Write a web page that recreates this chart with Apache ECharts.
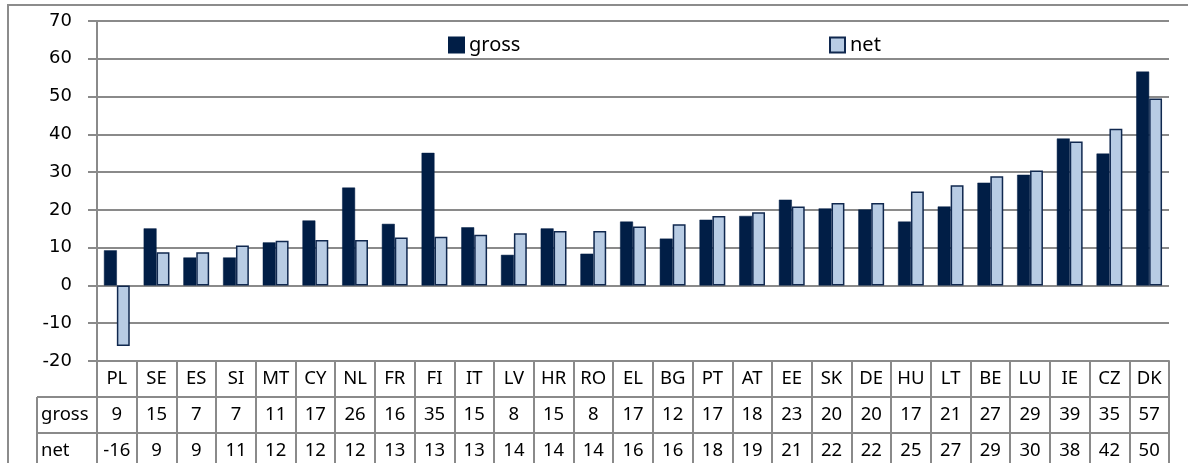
<!DOCTYPE html>
<html>
<head>
<meta charset="utf-8">
<script src="https://cdn.jsdelivr.net/npm/echarts@6/dist/echarts.min.js"></script>
<style>
  html, body { margin: 0; padding: 0; background: #fff; }
  #wrap { position: relative; width: 1188px; height: 463px; overflow: hidden; }
  #frame { position: absolute; left: 7px; top: 4px; width: 1300px; height: 600px;
           border-left: 2px solid #8c8c8c; border-top: 2px solid #8c8c8c; }
  #myEchart { position: absolute; left: 0; top: 0; width: 1188px; height: 463px; }
</style>
</head>
<body>
<div id="wrap">
  <div id="frame"></div>
  <div id="myEchart"></div>
</div>
<script>
// categories (countries)
var countries = ['PL', 'SE', 'ES', 'SI', 'MT', 'CY', 'NL', 'FR', 'FI', 'IT', 'LV', 'HR', 'RO', 'EL',
  'BG', 'PT', 'AT', 'EE', 'SK', 'DE', 'HU', 'LT', 'BE', 'LU', 'IE', 'CZ', 'DK'];
// bar heights
var grossValues = [9.3, 15.1, 7.4, 7.4, 11.4, 17.2, 25.9, 16.3, 35.1, 15.4, 8.1, 15.1, 8.4, 16.9,
  12.4, 17.4, 18.4, 22.7, 20.4, 20.1, 16.9, 20.9, 27.2, 29.3, 38.9, 34.9, 56.6];
var netValues = [-16.0, 8.8, 8.8, 10.6, 11.8, 12.0, 12.0, 12.7, 12.9, 13.4, 13.8, 14.4, 14.4, 15.6,
  16.2, 18.4, 19.4, 20.9, 21.8, 21.8, 24.9, 26.5, 28.9, 30.4, 38.1, 41.5, 49.5];
// values printed in the data table
var grossTable = [9, 15, 7, 7, 11, 17, 26, 16, 35, 15, 8, 15, 8, 17, 12, 17, 18, 23, 20, 20, 17, 21, 27, 29, 39, 35, 57];
var netTable = [-16, 9, 9, 11, 12, 12, 12, 13, 13, 13, 14, 14, 14, 16, 16, 18, 19, 21, 22, 22, 25, 27, 29, 30, 38, 42, 50];
var rowNames = ['gross', 'net'];
// y axis range
var yMin = -20;
var yMax = 70;
var yStep = 10;

var lineColor = '#8a8a8a';
var tableFont = 'Noto Sans';
var tableSize = 18.5;

var chart = echarts.init(document.getElementById('myEchart'));

var option = {
  animation: false,
  grid: [
    {left: 97, right: 19, top: 21, height: 340, outerBoundsMode: 'none'}, // plot
    {left: 37, width: 60, top: 397, height: 72, outerBoundsMode: 'none'} // row headers of the table
  ],
  legend: [
    {
      data: ['gross'], left: 443, top: 30, itemWidth: 15, itemHeight: 15, icon: 'rect',
      textStyle: {fontFamily: tableFont, fontSize: 20, color: '#000'}
    },
    {
      data: ['net'], left: 824, top: 30, itemWidth: 15, itemHeight: 15, icon: 'rect',
      textStyle: {fontFamily: tableFont, fontSize: 20, color: '#000'}
    }
  ],
  xAxis: [
    {
      // country row, ticks run down as table column lines
      type: 'category',
      gridIndex: 0,
      data: countries,
      position: 'bottom',
      axisLine: {onZero: false, lineStyle: {color: lineColor, width: 2}},
      axisTick: {show: true, interval: 0, length: 110, lineStyle: {color: lineColor, width: 2}},
      axisLabel: {interval: 0, margin: 8, fontFamily: tableFont, fontSize: tableSize, color: '#000'}
    },
    {
      // gross row
      type: 'category',
      gridIndex: 0,
      data: countries,
      position: 'bottom',
      offset: 36,
      axisLine: {onZero: false, lineStyle: {color: lineColor, width: 2}},
      axisTick: {show: false},
      axisLabel: {
        interval: 0, margin: 8, fontFamily: tableFont, fontSize: tableSize, color: '#000',
        formatter: function (value, index) { return String(grossTable[index]); }
      }
    },
    {
      // net row
      type: 'category',
      gridIndex: 0,
      data: countries,
      position: 'bottom',
      offset: 72,
      axisLine: {onZero: false, lineStyle: {color: lineColor, width: 2}},
      axisTick: {show: false},
      axisLabel: {
        interval: 0, margin: 8, fontFamily: tableFont, fontSize: tableSize, color: '#000',
        formatter: function (value, index) { return String(netTable[index]); }
      }
    },
    {
      // header column borders
      type: 'value',
      gridIndex: 1,
      min: 0, max: 1, interval: 1,
      axisLine: {show: false},
      axisTick: {show: false},
      axisLabel: {show: false},
      splitLine: {show: true, lineStyle: {color: lineColor, width: 2}}
    }
  ],
  yAxis: [
    {
      type: 'value',
      gridIndex: 0,
      min: yMin, max: yMax, interval: yStep,
      axisLine: {show: true, lineStyle: {color: lineColor, width: 2}},
      axisTick: {show: true, length: 9, lineStyle: {color: lineColor, width: 2}},
      axisLabel: {margin: 25, fontFamily: 'DejaVu Sans', fontSize: 18, color: '#000'},
      splitLine: {show: true, lineStyle: {color: lineColor, width: 2}}
    },
    {
      type: 'category',
      gridIndex: 1,
      data: rowNames,
      inverse: true,
      axisLine: {show: false},
      axisTick: {show: false},
      axisLabel: {inside: true, margin: 4, fontFamily: tableFont, fontSize: tableSize, color: '#000'},
      splitLine: {show: true, interval: 0, lineStyle: {color: lineColor, width: 2}}
    }
  ],
  series: [
    {
      name: 'gross',
      type: 'bar',
      xAxisIndex: 0,
      yAxisIndex: 0,
      barCategoryGap: '35%',
      barGap: '0%',
      itemStyle: {color: '#011e46', borderColor: '#011e46', borderWidth: 0.5},
      data: grossValues
    },
    {
      name: 'net',
      type: 'bar',
      xAxisIndex: 0,
      yAxisIndex: 0,
      barCategoryGap: '35%',
      barGap: '0%',
      itemStyle: {color: '#b8cce4', borderColor: '#10284f', borderWidth: 1.5},
      data: netValues
    }
  ]
};

chart.setOption(option);
</script>
</body>
</html>
